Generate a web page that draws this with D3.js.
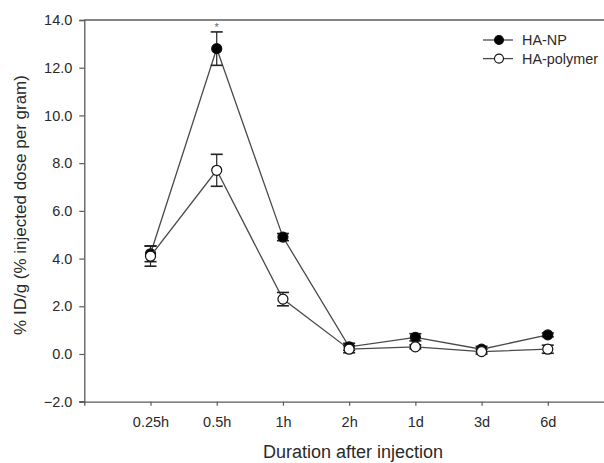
<!DOCTYPE html>
<html>
<head>
<meta charset="utf-8">
<script src="https://cdn.jsdelivr.net/npm/d3@7"></script>
<style>
  body { margin: 0; background: #fff; }
  svg { display: block; font-family: "Liberation Sans", Arial, sans-serif; }
</style>
</head>
<body>
<div id="chart"></div>
<script>
// Data
var durations = ["0.25h", "0.5h", "1h", "2h", "1d", "3d", "6d"];
var npMean = [4.2, 12.8, 4.9, 0.3, 0.7, 0.2, 0.8];
var npErr = [0.33, 0.7, 0.15, 0.15, 0.15, 0.12, 0.08];
var polyMean = [4.1, 7.7, 2.3, 0.2, 0.3, 0.1, 0.2];
var polyErr = [0.42, 0.67, 0.28, 0.15, 0.08, 0.1, 0.17];
var yTicks = [-2, 0, 2, 4, 6, 8, 10, 12, 14];
var seriesNames = ["HA-NP", "HA-polymer"];

var width = 604, height = 463;
var lineColor = "#4a4a4a", axisColor = "#5a5a5a", textColor = "#2a2a2a";

var svg = d3.select("#chart").append("svg")
    .attr("width", width)
    .attr("height", height);

// scales: index 0 is the y axis, points at 1..7
var x = d3.scaleLinear().domain([0, 8]).range([84.3, 614]);
var y = d3.scaleLinear().domain([-2, 14]).range([401.7, 20]);

// Axes
var yAxis = d3.axisLeft(y).tickValues(yTicks).tickSize(5).tickPadding(7)
    .tickFormat(d3.format(".1f"));
var xAxis = d3.axisBottom(x).tickValues(d3.range(1, durations.length + 1))
    .tickSize(4).tickPadding(11)
    .tickFormat(function (d) { return durations[d - 1]; });

var gy = svg.append("g").attr("transform", "translate(" + x(0) + ",0)").call(yAxis);
var gx = svg.append("g").attr("transform", "translate(0," + y(-2) + ")").call(xAxis);
[gx, gy].forEach(function (g) {
    g.attr("font-size", null).attr("font-family", null);
    g.select(".domain").attr("stroke", axisColor).attr("stroke-width", 1.3);
    g.selectAll(".tick line").attr("stroke", axisColor).attr("stroke-width", 1.2);
    g.selectAll(".tick text").attr("fill", textColor)
        .style("font-size", "14.5px");
});
// bottom line runs a bit past the y axis like the tick
svg.append("line")
    .attr("x1", x(0) - 5).attr("x2", x(0))
    .attr("y1", y(-2)).attr("y2", y(-2))
    .attr("stroke", axisColor).attr("stroke-width", 1.3);
// top frame line
svg.append("line")
    .attr("x1", x(0)).attr("x2", width)
    .attr("y1", y(14)).attr("y2", y(14))
    .attr("stroke", axisColor).attr("stroke-width", 1.3);

// Axis titles
svg.append("text")
    .attr("x", 353).attr("y", 458)
    .attr("text-anchor", "middle")
    .attr("fill", textColor)
    .style("font-size", "18px")
    .text("Duration after injection");

svg.append("text")
    .attr("transform", "translate(26,205)rotate(-90)")
    .attr("text-anchor", "middle")
    .attr("fill", textColor)
    .style("font-size", "17px")
    .text("% ID/g (% injected dose per gram)");

// Series
var series = [
    { name: seriesNames[0], mean: npMean, err: npErr, fill: "#000" },
    { name: seriesNames[1], mean: polyMean, err: polyErr, fill: "#fff" }
];

var line = d3.line()
    .x(function (d, i) { return x(i + 1); })
    .y(function (d) { return y(d); });

series.forEach(function (s) {
    var g = svg.append("g");
    g.append("path")
        .datum(s.mean)
        .attr("d", line)
        .attr("fill", "none")
        .attr("stroke", lineColor)
        .attr("stroke-width", 1.3);

    var eb = g.selectAll(".err")
        .data(s.mean)
        .enter().append("g");
    eb.append("line")
        .attr("x1", function (d, i) { return x(i + 1); })
        .attr("x2", function (d, i) { return x(i + 1); })
        .attr("y1", function (d, i) { return y(d + s.err[i]); })
        .attr("y2", function (d, i) { return y(d - s.err[i]); })
        .attr("stroke", "#222").attr("stroke-width", 1.2);
    [1, -1].forEach(function (sign) {
        eb.append("line")
            .attr("x1", function (d, i) { return x(i + 1) - 6; })
            .attr("x2", function (d, i) { return x(i + 1) + 6; })
            .attr("y1", function (d, i) { return y(d + sign * s.err[i]); })
            .attr("y2", function (d, i) { return y(d + sign * s.err[i]); })
            .attr("stroke", "#222").attr("stroke-width", 1.6);
    });

    g.selectAll("circle")
        .data(s.mean)
        .enter().append("circle")
        .attr("cx", function (d, i) { return x(i + 1); })
        .attr("cy", function (d) { return y(d); })
        .attr("r", 5)
        .attr("fill", s.fill)
        .attr("stroke", "#111")
        .attr("stroke-width", 1.2);
});

// significance star at 0.5h
svg.append("text")
    .attr("x", x(2)).attr("y", y(npMean[1] + npErr[1]) - 0.5)
    .attr("text-anchor", "middle")
    .attr("fill", "#666")
    .style("font-size", "11px")
    .text("*");

// Legend
var legend = svg.append("g").attr("transform", "translate(483,40)");
series.forEach(function (s, i) {
    var row = legend.append("g").attr("transform", "translate(0," + (i * 18.6) + ")");
    row.append("line")
        .attr("x1", 0).attr("x2", 30)
        .attr("stroke", lineColor).attr("stroke-width", 1.3);
    row.append("circle")
        .attr("cx", 16).attr("r", 4.5)
        .attr("fill", s.fill).attr("stroke", "#111").attr("stroke-width", 1.1);
    row.append("text")
        .attr("x", 39).attr("dy", "0.36em")
        .attr("fill", textColor)
        .style("font-size", "14.4px")
        .text(s.name);
});
</script>
</body>
</html>
